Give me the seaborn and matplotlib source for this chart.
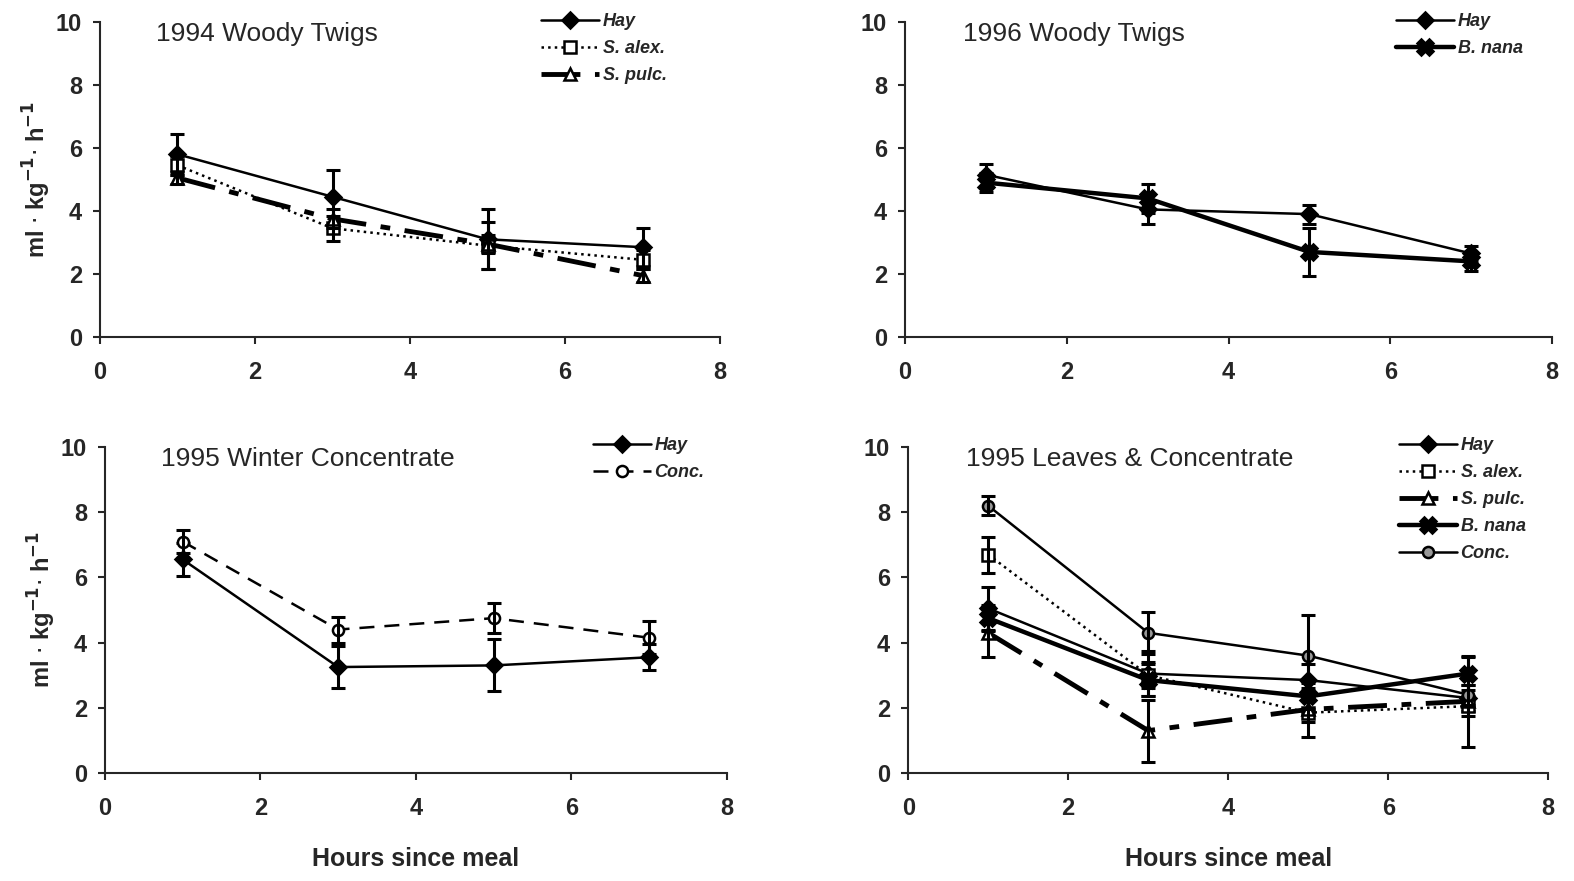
import numpy as np
import pandas as pd
import matplotlib
matplotlib.use("Agg")
import matplotlib.pyplot as plt
import seaborn as sns

# --- data ---
hours = [1, 3, 5, 7]

# 1994 Woody Twigs
tw94_hay = [5.8, 4.45, 3.1, 2.85]
tw94_hay_err = [0.65, 0.85, 0.95, 0.6]
tw94_salex = [5.45, 3.45, 2.9, 2.45]
tw94_salex_err = [0.3, 0.4, 0.75, 0.3]
tw94_spulc = [5.05, 3.75, 2.95, 1.95]
tw94_spulc_err = [0.2, 0.3, 0.3, 0.2]

# 1996 Woody Twigs
tw96_hay = [5.15, 4.05, 3.9, 2.65]
tw96_hay_err = [0.35, 0.45, 0.3, 0.25]
tw96_bnana = [4.9, 4.4, 2.7, 2.4]
tw96_bnana_err = [0.3, 0.45, 0.75, 0.3]

# 1995 Winter Concentrate
wc_hay = [6.55, 3.25, 3.3, 3.55]
wc_hay_err = [0.5, 0.65, 0.8, 0.4]
wc_conc = [7.1, 4.4, 4.75, 4.15]
wc_conc_err = [0.35, 0.4, 0.45, 0.5]

# 1995 Leaves & Concentrate
lc_hay = [5.05, 3.05, 2.85, 2.3]
lc_hay_err = [0.65, 0.7, 0.5, 0.4]
lc_salex = [6.7, 3.0, 1.85, 2.05]
lc_salex_err = [0.55, 0.4, 0.75, 0.3]
lc_spulc = [4.3, 1.3, 1.95, 2.2]
lc_spulc_err = [0.75, 0.95, 0.4, 1.4]
lc_bnana = [4.75, 2.85, 2.35, 3.05]
lc_bnana_err = [0.4, 0.5, 0.4, 0.5]
lc_conc = [8.2, 4.3, 3.6, 2.4]
lc_conc_err = [0.3, 0.65, 1.25, 0.3]

sns.set_style("ticks")
plt.rcParams['font.family'] = ['Liberation Sans', 'DejaVu Sans']

# series styles
STYLES = {
    'Hay': dict(ls='-', marker='D', mfc='black', lw=1.8, ms=8),
    'S. alex.': dict(ls=':', marker='s', mfc='white', lw=1.8, ms=8),
    'S. pulc.': dict(ls=(0, (8, 3, 2, 3)), marker='^', mfc='white', lw=3.5, ms=9),
    'B. nana': dict(ls='-', marker='X', mfc='black', lw=3.2, ms=11),
    'Conc.': dict(ls='-', marker='o', mfc='0.6', lw=1.8, ms=8),
}


def draw_series(ax, label, values, errs, style):
    df = pd.DataFrame({'hours': hours, 'rate': values})
    sns.lineplot(data=df, x='hours', y='rate', ax=ax, color='black',
                 linestyle=style['ls'], linewidth=style['lw'],
                 marker=style['marker'], markersize=style['ms'],
                 markerfacecolor=style['mfc'], markeredgecolor='black',
                 markeredgewidth=1.8, label=label)
    ax.errorbar(hours, values, yerr=errs, fmt='none', ecolor='black',
                elinewidth=2.2, capsize=5, capthick=2.2)


def finish_axes(ax, title, legend_x, ylabel=True, xlabel=False):
    ax.set_xlim(0, 8)
    ax.set_ylim(0, 10)
    ax.set_xticks(range(0, 9, 2))
    ax.set_yticks(range(0, 11, 2))
    ax.tick_params(labelsize=17, width=1.5, length=5)
    ax.tick_params(axis='x', pad=12)
    ax.tick_params(axis='y', pad=8)
    for lab in ax.get_xticklabels() + ax.get_yticklabels():
        lab.set_fontweight('bold')
    sns.despine(ax=ax)
    for sp in ['left', 'bottom']:
        ax.spines[sp].set_linewidth(1.5)
    ax.text(0.09, 1.0, title, transform=ax.transAxes, fontsize=19,
            va='top', ha='left')
    ax.set_xlabel('Hours since meal' if xlabel else '', fontsize=18,
                  fontweight='bold', labelpad=20)
    ax.set_ylabel(r'ml $\cdot$ kg$^{\mathbf{-1}}$$\cdot$ h$^{\mathbf{-1}}$' if ylabel else '',
                  fontsize=17, fontweight='bold', labelpad=2)
    ax.legend(loc='upper right', bbox_to_anchor=(legend_x, 1.08), frameon=False,
              handlelength=3.2, labelspacing=0.55, handletextpad=0.2,
              prop=dict(style='italic', weight='bold', size=13))


fig = plt.figure(figsize=(15.74, 8.81), dpi=100)
ax1 = fig.add_axes([0.0635, 0.6175, 0.394, 0.3576])
ax2 = fig.add_axes([0.575, 0.6175, 0.411, 0.3576])
ax3 = fig.add_axes([0.0667, 0.1226, 0.395, 0.370])
ax4 = fig.add_axes([0.577, 0.1226, 0.4066, 0.370])

draw_series(ax1, 'Hay', tw94_hay, tw94_hay_err, STYLES['Hay'])
draw_series(ax1, 'S. alex.', tw94_salex, tw94_salex_err, STYLES['S. alex.'])
draw_series(ax1, 'S. pulc.', tw94_spulc, tw94_spulc_err, STYLES['S. pulc.'])
finish_axes(ax1, '1994 Woody Twigs', 0.94)

draw_series(ax2, 'Hay', tw96_hay, tw96_hay_err, STYLES['Hay'])
draw_series(ax2, 'B. nana', tw96_bnana, tw96_bnana_err, STYLES['B. nana'])
finish_axes(ax2, '1996 Woody Twigs', 0.98, ylabel=False)

draw_series(ax3, 'Hay', wc_hay, wc_hay_err, STYLES['Hay'])
conc_dashed = dict(STYLES['Conc.'], ls=(0, (6, 4)), mfc='white')
draw_series(ax3, 'Conc.', wc_conc, wc_conc_err, conc_dashed)
finish_axes(ax3, '1995 Winter Concentrate', 0.99, xlabel=True)

draw_series(ax4, 'Hay', lc_hay, lc_hay_err, STYLES['Hay'])
draw_series(ax4, 'S. alex.', lc_salex, lc_salex_err, STYLES['S. alex.'])
draw_series(ax4, 'S. pulc.', lc_spulc, lc_spulc_err, STYLES['S. pulc.'])
draw_series(ax4, 'B. nana', lc_bnana, lc_bnana_err, STYLES['B. nana'])
draw_series(ax4, 'Conc.', lc_conc, lc_conc_err, STYLES['Conc.'])
finish_axes(ax4, '1995 Leaves & Concentrate', 0.99, ylabel=False, xlabel=True)

fig.savefig('out.png', dpi=100, facecolor='white')
